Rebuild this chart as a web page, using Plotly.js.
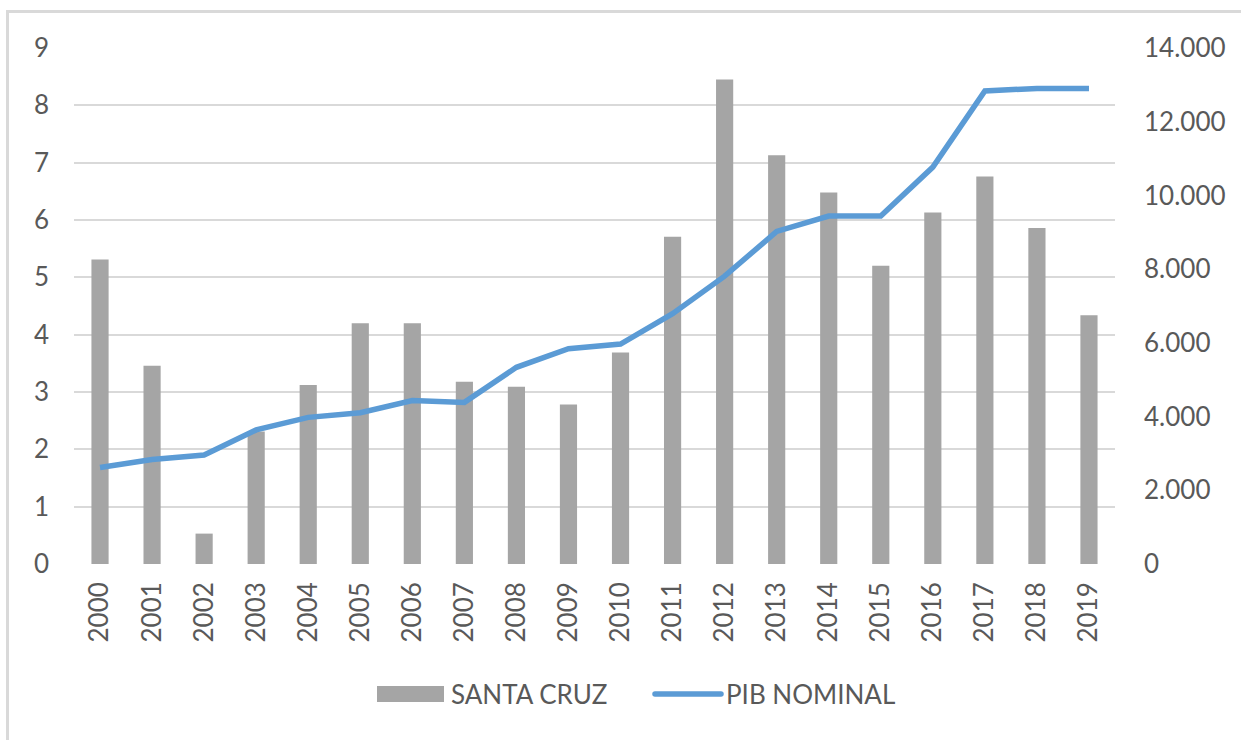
<!DOCTYPE html>
<html>
<head>
<meta charset="utf-8">
<script src="https://cdn.plot.ly/plotly-3.0.1.min.js"></script>
<style>
  html, body { margin: 0; padding: 0; background: #ffffff; }
  #wrap { position: relative; width: 1241px; height: 740px; overflow: hidden; }
  #chart { position: absolute; left: 0; top: 0; width: 1241px; height: 740px; }
  #frame { position: absolute; left: 6px; top: 10px; width: 1260px; height: 760px;
           border-left: 3px solid #d9d9d9; border-top: 3px solid #d9d9d9; pointer-events: none; }
</style>
</head>
<body>
<div id="wrap">
  <div id="chart"></div>
  <div id="frame"></div>
</div>
<script>
const years = ['2000','2001','2002','2003','2004','2005','2006','2007','2008','2009',
               '2010','2011','2012','2013','2014','2015','2016','2017','2018','2019'];
const santaCruz = [5.31, 3.46, 0.53, 2.31, 3.12, 4.20, 4.20, 3.18, 3.09, 2.78,
                   3.69, 5.71, 8.45, 7.13, 6.48, 5.20, 6.13, 6.76, 5.86, 4.34];
const pibNominal = [2620, 2833, 2959, 3638, 3978, 4104, 4434, 4385, 5336, 5841,
                    5967, 6791, 7810, 9023, 9440, 9440, 10769, 12836, 12903, 12903];
const leftTicks = [0,1,2,3,4,5,6,7,8,9];
const rightTicks = [0,2000,4000,6000,8000,10000,12000,14000];

const FONT = 'Lato, "Open Sans", sans-serif';
const TXT = '#595959';

const traces = [
  {
    type: 'bar', name: 'SANTA CRUZ', x: years, y: santaCruz,
    marker: { color: '#a5a5a5' }, yaxis: 'y', hoverinfo: 'x+y'
  },
  {
    type: 'scatter', mode: 'lines', name: 'PIB NOMINAL', x: years, y: pibNominal,
    line: { color: '#5b9bd5', width: 5.5 }, yaxis: 'y2', hoverinfo: 'x+y'
  }
];

const layout = {
  width: 1241, height: 740,
  margin: { l: 74, r: 126, t: 48, b: 176 },
  paper_bgcolor: '#ffffff', plot_bgcolor: '#ffffff',
  font: { family: FONT, size: 26, color: TXT },
  separators: ',.',
  bargap: 0.67,
  showlegend: true,
  legend: {
    orientation: 'h', x: 0.2853, xanchor: 'left', y: -0.252, yanchor: 'middle',
    font: { family: FONT, size: 26, color: TXT }, itemwidth: 70, entrywidth: 190,
    traceorder: 'normal', bgcolor: 'rgba(0,0,0,0)'
  },
  xaxis: {
    type: 'category', tickangle: -90, showgrid: false, zeroline: false,
    showline: false, ticks: '', ticklabelstandoff: 12,
    tickfont: { family: FONT, size: 26, color: TXT }, fixedrange: true
  },
  yaxis: {
    range: [0, 9], tickvals: leftTicks, showgrid: true, gridcolor: '#d9d9d9', gridwidth: 2,
    zeroline: false, showline: false, ticks: '', ticklabelstandoff: 24,
    tickfont: { family: FONT, size: 26, color: TXT }, fixedrange: true
  },
  yaxis2: {
    overlaying: 'y', side: 'right', range: [0, 14000], tickvals: rightTicks,
    tickformat: ',d', showgrid: false, zeroline: false, showline: false, ticks: '',
    ticklabelstandoff: 28,
    tickfont: { family: FONT, size: 26, color: TXT }, fixedrange: true
  }
};

Plotly.newPlot('chart', traces, layout, { displayModeBar: false, staticPlot: true }).then(function (gd) {
  // Widen legend swatches to look like the original spreadsheet legend keys
  const items = gd.querySelectorAll('.legend .traces');
  if (items.length >= 2) {
    const barPaths = items[0].querySelectorAll('.legendpoints path');
    barPaths.forEach(function (p) { p.setAttribute('d', 'M6,8H73V-8H6Z'); p.removeAttribute('transform'); });
    const linePaths = items[1].querySelectorAll('.legendlines path');
    linePaths.forEach(function (p) {
      p.setAttribute('d', 'M9,0h66');
      p.style.strokeLinecap = 'round';
    });
  }
});
</script>
</body>
</html>
